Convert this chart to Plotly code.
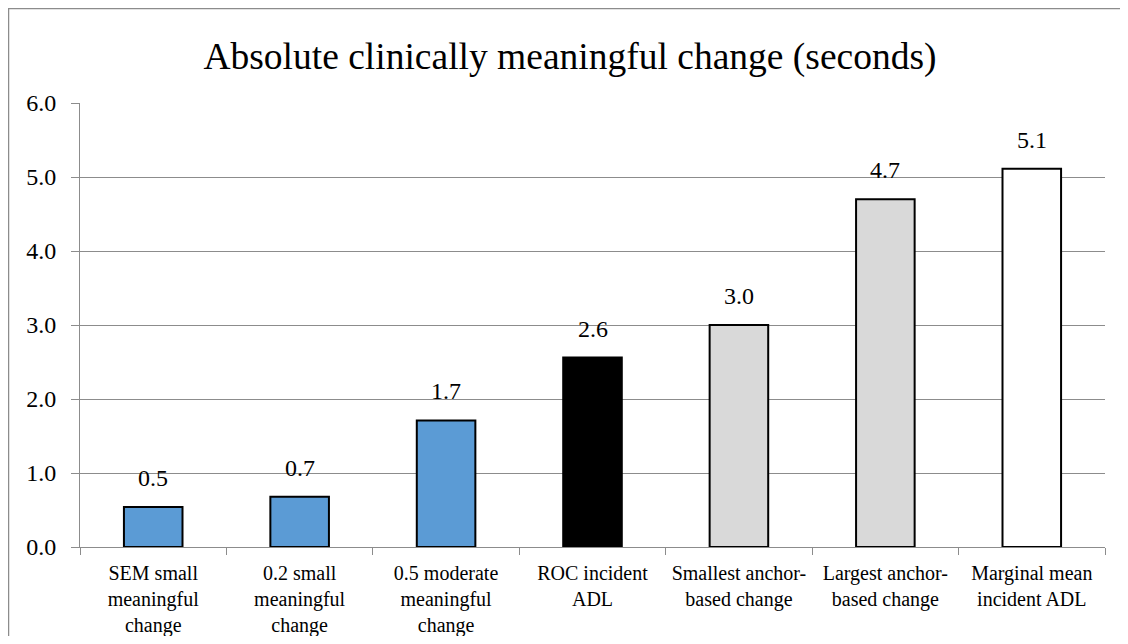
import plotly.graph_objects as go

# 데이터
categories = [
    "SEM small<br>meaningful<br>change",
    "0.2 small<br>meaningful<br>change",
    "0.5 moderate<br>meaningful<br>change",
    "ROC incident<br>ADL",
    "Smallest anchor-<br>based change",
    "Largest anchor-<br>based change",
    "Marginal mean<br>incident ADL",
]
values = [0.54, 0.68, 1.71, 2.56, 3.0, 4.7, 5.11]
bar_colors = ["#5B9BD5", "#5B9BD5", "#5B9BD5", "#000000", "#D9D9D9", "#D9D9D9", "#FFFFFF"]
y_ticks = [0, 1, 2, 3, 4, 5, 6]

# 페이지 body 여백(8px) 만큼 줄인 크기
W, H = 1112, 628
M = dict(l=72, r=15, t=95, b=89)
FONT = "Liberation Serif, Times New Roman, serif"

fig = go.Figure()

fig.add_trace(go.Bar(
    x=categories,
    y=values,
    width=0.4,
    marker=dict(color=bar_colors, line=dict(color="#000000", width=2)),
    hoverinfo="skip",
))

# 값 레이블
for c, v in zip(categories, values):
    fig.add_annotation(
        x=c, y=v, text=f"{v:.1f}", showarrow=False,
        yanchor="bottom", yshift=14,
        font=dict(family=FONT, size=24, color="#000000"),
    )

# 바깥 테두리 (위/왼쪽만 보임)
pw = W - M["l"] - M["r"]
ph = H - M["t"] - M["b"]
fig.add_shape(
    type="rect", xref="paper", yref="paper",
    x0=(0.5 - M["l"]) / pw, x1=(W + 20 - M["l"]) / pw,
    y0=(H - M["b"] - (H + 20)) / ph, y1=(H - M["b"] - 0.5) / ph,
    line=dict(color="#8C8C8C", width=1.5), fillcolor="rgba(0,0,0,0)",
    layer="below",
)

fig.update_layout(
    width=W, height=H,
    margin=M,
    paper_bgcolor="#FFFFFF",
    plot_bgcolor="#FFFFFF",
    showlegend=False,
    font=dict(family=FONT, color="#000000"),
    title=dict(
        text="Absolute clinically meaningful change (seconds)",
        x=562 / W, xanchor="center",
        y=1 - 48 / H, yanchor="middle", yref="container",
        font=dict(family=FONT, size=37.5, color="#000000"),
    ),
    xaxis=dict(
        type="category",
        automargin=False,
        showline=True, linecolor="#8C8C8C", linewidth=1,
        ticks="outside", tickson="boundaries", ticklen=7, tickcolor="#8C8C8C",
        ticklabelstandoff=8,
        tickfont=dict(family=FONT, size=20, color="#000000"),
        showgrid=False,
    ),
    yaxis=dict(
        range=[0, 6],
        automargin=False,
        tickvals=y_ticks,
        tickformat=".1f",
        showline=True, linecolor="#8C8C8C", linewidth=1,
        ticks="outside", ticklen=8, tickcolor="#8C8C8C",
        ticklabelstandoff=10,
        showgrid=True, gridcolor="#8C8C8C", gridwidth=1,
        zeroline=False,
        tickfont=dict(family=FONT, size=24, color="#000000"),
    ),
)

fig.write_html("out.html")
